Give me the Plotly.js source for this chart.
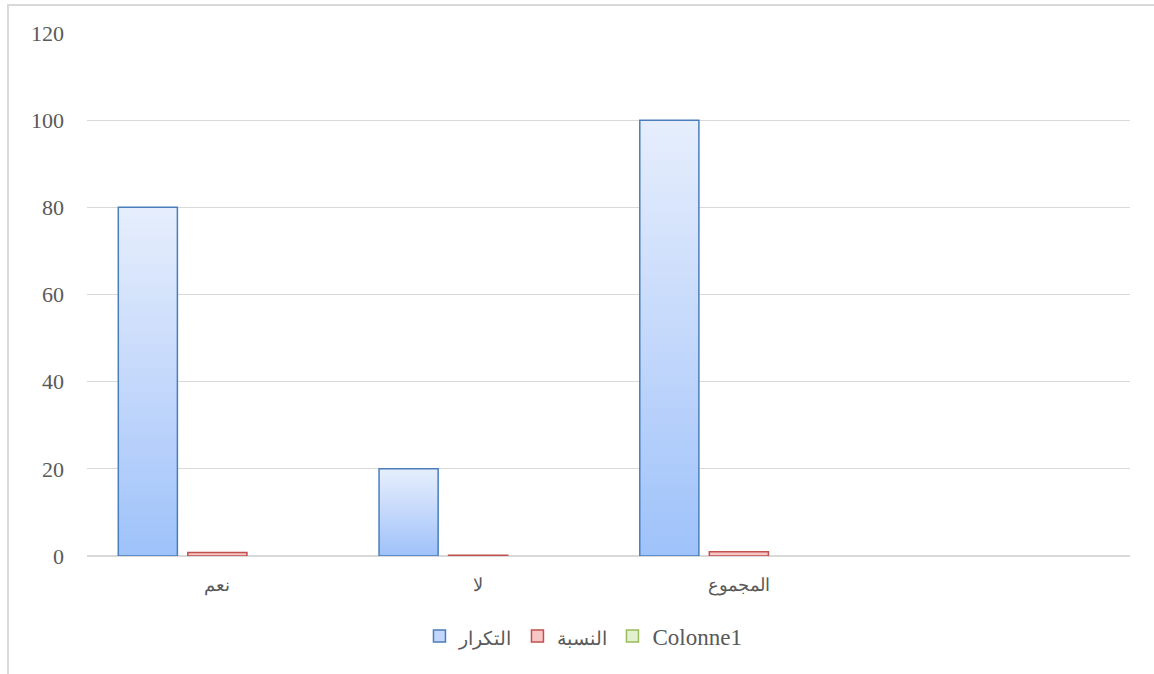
<!DOCTYPE html>
<html>
<head>
<meta charset="utf-8">
<script src="https://cdn.plot.ly/plotly-3.0.1.min.js"></script>
<style>
  html, body { margin: 0; padding: 0; background: #fff; }
  #wrap { position: relative; width: 1154px; height: 674px; }
  #chart { width: 1154px; height: 674px; }
  #frame { position: absolute; left: 7px; top: 4px; right: 0; bottom: 0;
           border-left: 2px solid #d9d9d9; border-top: 2px solid #d9d9d9; pointer-events: none; }
</style>
</head>
<body>
<div id="wrap">
  <div id="chart"></div>
  <div id="frame"></div>
</div>
<script>
const categories = ['نعم', 'لا', 'المجموع'];
const seriesNames = ['التكرار', 'النسبة', 'Colonne1'];
const frequency = [80, 20, 100];
const ratio = [0.8, 0.2, 1];
const colonne1 = [null, null, null];
const yTicks = [0, 20, 40, 60, 80, 100, 120];

const font = '"Liberation Serif", "DejaVu Serif", serif';
const arabicName = function (s) { return '<span style="font-size:19px">' + s + '</span>'; };

const traces = [
  { type: 'bar', name: arabicName(seriesNames[0]), x: categories, y: frequency,
    marker: { color: '#c2d7fb', line: { color: '#4a7ebb', width: 1.5 } } },
  { type: 'bar', name: arabicName(seriesNames[1]), x: categories, y: ratio,
    marker: { color: '#f7c6c5', line: { color: '#c0504d', width: 1.5 } } },
  { type: 'bar', name: seriesNames[2], x: categories, y: colonne1,
    marker: { color: '#e3f0d0', line: { color: '#9bbb59', width: 1.5 } } }
];

const layout = {
  width: 1154, height: 674,
  margin: { l: 87, r: 24, t: 33, b: 118 },
  paper_bgcolor: '#fff', plot_bgcolor: '#fff',
  barmode: 'group', bargap: 0.2, bargroupgap: 0.15,
  showlegend: true,
  legend: { orientation: 'h', x: 0.476, xanchor: 'center', y: -0.153, yanchor: 'middle',
            font: { family: font, size: 23, color: '#595959' }, traceorder: 'normal',
            itemwidth: 30 },
  xaxis: { type: 'category', categoryorder: 'array', categoryarray: categories,
           range: [-0.5, 3.5], showgrid: false, zeroline: false, showline: false,
           ticks: '', ticklabelstandoff: 16,
           tickfont: { family: font, size: 18, color: '#595959' } },
  yaxis: { range: [0, 120], tickvals: yTicks, ticktext: yTicks.map(String),
           showgrid: true, gridcolor: '#d9d9d9', gridwidth: 1.3,
           zeroline: true, zerolinecolor: '#d9d9d9', zerolinewidth: 1.3,
           showline: false, ticks: '', ticklabelstandoff: 22,
           tickfont: { family: font, size: 22, color: '#595959' } },
  hovermode: false
};

Plotly.newPlot('chart', traces, layout, { displayModeBar: false, staticPlot: true }).then(function (gd) {
  const svg = gd.querySelector('svg.main-svg');
  const ns = 'http://www.w3.org/2000/svg';
  let defs = svg.querySelector('defs');
  if (!defs) { defs = document.createElementNS(ns, 'defs'); svg.insertBefore(defs, svg.firstChild); }
  const grad = document.createElementNS(ns, 'linearGradient');
  grad.setAttribute('id', 'blueGrad');
  grad.setAttribute('x1', '0'); grad.setAttribute('y1', '0');
  grad.setAttribute('x2', '0'); grad.setAttribute('y2', '1');
  [['0', '#e6eefc'], ['0.5', '#c4d8fb'], ['1', '#9ec2fa']].forEach(function (s) {
    const st = document.createElementNS(ns, 'stop');
    st.setAttribute('offset', s[0]); st.setAttribute('stop-color', s[1]);
    grad.appendChild(st);
  });
  defs.appendChild(grad);
  const t = gd.querySelectorAll('.barlayer .trace')[0];
  if (t) t.querySelectorAll('path').forEach(function (p) { p.style.fill = 'url(#blueGrad)'; });
});
</script>
</body>
</html>
